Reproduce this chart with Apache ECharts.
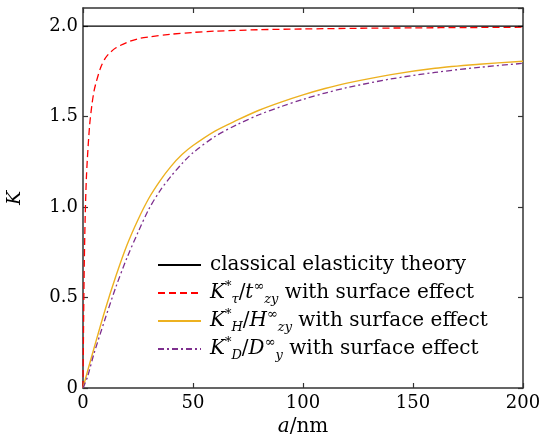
<!DOCTYPE html>
<html>
<head>
<meta charset="utf-8">
<script src="https://cdn.jsdelivr.net/npm/echarts@6/dist/echarts.min.js"></script>
<style>
  html, body { margin: 0; padding: 0; background: #fff; }
  #chart { width: 540px; height: 442px; }
</style>
</head>
<body>
<div id="chart"></div>
<script>
// values
const xTicks = [0, 50, 100, 150, 200];
const yTicks = [0, 0.5, 1.0, 1.5, 2.0];

const classicalA = [0, 200];
const classicalK = [2.0, 2.0];

const tauA = [0, 0.3, 0.6, 1, 1.5, 2, 3, 4, 5, 6, 8, 10, 12, 15, 20, 25, 30, 40, 50, 60, 80, 100, 125, 150, 175, 200];
const tauK = [0, 0.4, 0.7, 0.95, 1.15, 1.27, 1.45, 1.56, 1.64, 1.69, 1.77, 1.82, 1.85, 1.88, 1.91, 1.93, 1.94, 1.955, 1.965, 1.972, 1.98, 1.984, 1.988, 1.99, 1.992, 1.994];

const hA = [0, 2, 5, 10, 15, 20, 25, 30, 35, 40, 45, 50, 60, 70, 80, 90, 100, 110, 120, 140, 160, 180, 200];
const hK = [0, 0.09, 0.22, 0.43, 0.62, 0.79, 0.93, 1.05, 1.145, 1.225, 1.29, 1.34, 1.42, 1.48, 1.535, 1.58, 1.62, 1.655, 1.685, 1.732, 1.767, 1.789, 1.806];

const dA = [0, 2, 5, 10, 15, 20, 25, 30, 35, 40, 45, 50, 60, 70, 80, 90, 100, 110, 120, 140, 160, 180, 200];
const dK = [0, 0.06, 0.19, 0.38, 0.56, 0.72, 0.86, 0.99, 1.09, 1.17, 1.24, 1.30, 1.39, 1.455, 1.51, 1.555, 1.595, 1.63, 1.66, 1.708, 1.744, 1.772, 1.794];

const pairs = (xs, ys) => xs.map((x, i) => [x, ys[i]]);

const font = 'DejaVu Serif';
const fs = 18;
const lfs = 20;
const axisCol = '#333';

const rich = {
  n: { fontFamily: font, fontSize: lfs, color: '#000', lineHeight: 26 },
  i: { fontFamily: font, fontSize: lfs, fontStyle: 'italic', color: '#000', lineHeight: 26 },
  sup: { fontFamily: font, fontSize: 13, fontStyle: 'italic', color: '#000', verticalAlign: 'top', lineHeight: 18 },
  sub: { fontFamily: font, fontSize: 13, fontStyle: 'italic', color: '#000', verticalAlign: 'bottom', lineHeight: 16 }
};

const legendText = {
  'classical': '{n|classical elasticity theory}{sub| }',
  'tau': '{i|K}{sup|*}{sub|τ}{n|/}{i|t}{sup|∞}{sub|zy}{n| with surface effect}',
  'H': '{i|K}{sup|*}{sub|H}{n|/}{i|H}{sup|∞}{sub|zy}{n| with surface effect}',
  'D': '{i|K}{sup|*}{sub|D}{n|/}{i|D}{sup|∞}{sub|y}{n| with surface effect}'
};

const chart = echarts.init(document.getElementById('chart'));

const baseX = {
  type: 'value', min: 0, max: 200, interval: 50,
  axisLine: { show: true, onZero: false, lineStyle: { color: axisCol, width: 1.5 } },
  axisTick: { show: true, inside: true, length: 5, lineStyle: { color: axisCol, width: 1.2 } },
  splitLine: { show: false }
};
const baseY = {
  type: 'value', min: 0, max: 2.1, interval: 0.5,
  axisLine: { show: true, onZero: false, lineStyle: { color: axisCol, width: 1.5 } },
  axisTick: { show: true, inside: true, length: 5, lineStyle: { color: axisCol, width: 1.2 } },
  splitLine: { show: false }
};

chart.setOption({
  animation: false,
  backgroundColor: '#fff',
  grid: { left: 83, right: 17, top: 8, bottom: 54, outerBoundsMode: 'none' },
  legend: {
    orient: 'vertical',
    left: 157,
    top: 255,
    itemWidth: 43,
    itemHeight: 10,
    itemGap: 2,
    padding: 0,
    itemStyle: { opacity: 0 },
    formatter: name => legendText[name],
    textStyle: { rich: rich, padding: [0, 0, 0, 4] },
    data: ['classical', 'tau', 'H', 'D']
  },
  xAxis: [
    Object.assign({}, baseX, {
      position: 'bottom',
      name: '{i|a}{n|/nm}',
      nameLocation: 'middle',
      nameGap: 26,
      nameTextStyle: { rich: rich },
      axisLabel: {
        margin: 6, fontFamily: font, fontSize: fs, color: '#000',
        formatter: v => xTicks.includes(v) ? String(v) : ''
      }
    }),
    Object.assign({}, baseX, { position: 'top', axisLabel: { show: false } })
  ],
  yAxis: [
    Object.assign({}, baseY, {
      position: 'left',
      name: 'K',
      nameLocation: 'middle',
      nameGap: 58,
      nameTextStyle: { fontFamily: font, fontSize: 19, fontStyle: 'italic', color: '#000' },
      axisLabel: {
        margin: 5, fontFamily: font, fontSize: fs, color: '#000',
        showMaxLabel: false,
        formatter: v => {
          if (!yTicks.some(t => Math.abs(t - v) < 1e-9)) return '';
          return v === 0 ? '0' : v.toFixed(1);
        }
      }
    }),
    Object.assign({}, baseY, { position: 'right', axisLabel: { show: false } })
  ],
  series: [
    {
      name: 'classical', type: 'line', symbol: 'none', z: 5,
      data: pairs(classicalA, classicalK),
      lineStyle: { color: '#000', width: 1.3 },
      itemStyle: { color: '#000' }
    },
    {
      name: 'tau', type: 'line', symbol: 'none', smooth: 0.3,
      data: pairs(tauA, tauK),
      lineStyle: { color: '#ff0000', width: 1.3, type: [7, 4] },
      itemStyle: { color: '#ff0000' }
    },
    {
      name: 'H', type: 'line', symbol: 'none', smooth: 0.3,
      data: pairs(hA, hK),
      lineStyle: { color: '#EDB120', width: 1.4 },
      itemStyle: { color: '#EDB120' }
    },
    {
      name: 'D', type: 'line', symbol: 'none', smooth: 0.3,
      data: pairs(dA, dK),
      lineStyle: { color: '#7E2F8E', width: 1.3, type: [6, 3, 2, 3] },
      itemStyle: { color: '#7E2F8E' }
    }
  ]
});
</script>
</body>
</html>
